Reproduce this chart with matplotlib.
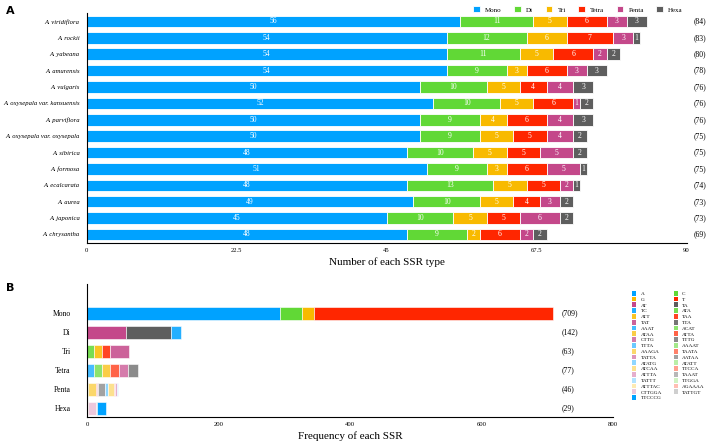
import numpy as np
import matplotlib
matplotlib.use("Agg")
from matplotlib import pyplot as plt
from matplotlib.patches import Patch

# ---- panel A data ----
species = ["A. viridiflora", "A. rockii", "A. yabeana", "A. amurensis", "A. vulgaris",
           "A. oxysepala var. kansuensis", "A. parviflora", "A. oxysepala var. oxysepala",
           "A. sibirica", "A. formosa", "A. ecalcarata", "A. aurea", "A. japonica",
           "A. chrysantha"]
ssr_types = ["Mono", "Di", "Tri", "Tetra", "Penta", "Hexa"]
mono = [56, 54, 54, 54, 50, 52, 50, 50, 48, 51, 48, 49, 45, 48]
di = [11, 12, 11, 9, 10, 10, 9, 9, 10, 9, 13, 10, 10, 9]
tri = [5, 6, 5, 3, 5, 5, 4, 5, 5, 3, 5, 5, 5, 2]
tetra = [6, 7, 6, 6, 4, 6, 6, 5, 5, 6, 5, 4, 5, 6]
penta = [3, 3, 2, 3, 4, 1, 4, 4, 5, 5, 2, 3, 6, 2]
hexa = [3, 1, 2, 3, 3, 2, 3, 2, 2, 1, 1, 2, 2, 2]
totals = [84, 83, 80, 78, 76, 76, 76, 75, 75, 75, 74, 73, 73, 69]

# ---- panel B data (motifs in legend order, row by row) ----
motifs = ["A", "C", "G", "T", "AT", "TA", "TC", "ATA", "ATT", "TAA", "TAT", "TTA",
          "AAAT", "ACAT", "ATAA", "ATTA", "CTTG", "TTTG", "TTTA", "AAAAT", "AAAGA",
          "TAATA", "TATTA", "AATAA", "ATATG", "ATATT", "ATCAA", "TTCCA", "ATTTA",
          "TAAAT", "TATTT", "TTGGA", "ATTTAC", "AGAAAA", "CTTGGA", "TATTGT", "TTCCCG"]
motif_counts = [294, 33, 18, 364, 59, 68, 15, 10, 12, 12, 29, 0,
                10, 13, 11, 14, 14, 15, 0, 1, 13,
                1, 2, 10, 4, 1, 9, 1, 3,
                0, 1, 0, 1, 0, 13, 1, 14]
class_totals = [709, 142, 63, 77, 46, 29]

base_colors = ["#00a2ff", "#61d836", "#f8ba00", "#ff2600", "#c4488a", "#5e5e5e"]

def lighten(c, f):
    rgb = np.array(matplotlib.colors.to_rgb(c))
    return tuple(rgb + (1 - rgb) * f)

motif_colors = [lighten(base_colors[i % 6], ((i // 6) % 6) * 0.14) for i in range(len(motifs))]

serif = "Liberation Serif"
plt.rcParams["font.family"] = serif

fig = plt.figure(figsize=(7.09, 4.42), dpi=100)

# ---------- A ----------
ax1 = fig.add_axes([0.1223, 0.451, 0.846, 0.519])
y = np.arange(len(species))
left = np.zeros(len(species))
for name, vals, col in zip(ssr_types, [mono, di, tri, tetra, penta, hexa], base_colors):
    vals = np.array(vals)
    ax1.barh(y, vals, left=left, height=0.7, color=col, edgecolor="white", linewidth=0.6, label=name)
    for yi, l, v in zip(y, left, vals):
        ax1.text(l + v / 2, yi, str(v), ha="center", va="center", color="white", fontsize=5.5)
    left = left + vals
for yi, t in zip(y, totals):
    ax1.text(91, yi, "(%d)" % t, ha="left", va="center", fontsize=5.5, clip_on=False)
ax1.set_ylim(len(species) - 0.5, -0.5)
ax1.set_xlim(0, 90)
ax1.set_xticks([0, 22.5, 45, 67.5, 90])
ax1.set_xticklabels(["0", "22.5", "45", "67.5", "90"])
ax1.set_yticks(y)
ax1.set_yticklabels(species, fontstyle="italic")
ax1.tick_params(axis="both", length=0, labelsize=4.8)
ax1.tick_params(axis="x", pad=4)
ax1.tick_params(axis="y", pad=5)
for s in ["top", "right"]:
    ax1.spines[s].set_visible(False)
ax1.spines["left"].set_linewidth(0.8)
ax1.spines["bottom"].set_linewidth(0.8)
ax1.set_xlabel("Number of each SSR type", fontsize=8, labelpad=3)
ax1.legend(loc="lower right", bbox_to_anchor=(0.995, 1.0), ncol=6, frameon=False, fontsize=5,
           handlelength=0.9, handleheight=0.9, columnspacing=1.8, handletextpad=0.8,
           borderaxespad=0.0, borderpad=0.1)

# ---------- B ----------
ax2 = fig.add_axes([0.1231, 0.0572, 0.7415, 0.300])
motif_len = [len(m) for m in motifs]
left2 = np.zeros(len(ssr_types))
for i, (m, c) in enumerate(zip(motifs, motif_counts)):
    k = motif_len[i] - 1
    if c > 0:
        ax2.barh(k, c, left=left2[k], height=0.7, color=motif_colors[i],
                 edgecolor="white", linewidth=0.4)
    left2[k] += c
for k, t in enumerate(class_totals):
    ax2.text(722, k, "(%d)" % t, ha="left", va="center", fontsize=5.5, clip_on=False)
ax2.set_ylim(5.44, -1.54)
ax2.set_xlim(0, 800)
ax2.set_xticks([0, 200, 400, 600, 800])
ax2.set_yticks(range(len(ssr_types)))
ax2.set_yticklabels(ssr_types)
ax2.tick_params(axis="x", length=0, labelsize=4.8, pad=4)
ax2.tick_params(axis="y", length=0, labelsize=5.5, pad=12)
for s in ["top", "right"]:
    ax2.spines[s].set_visible(False)
ax2.spines["left"].set_linewidth(0.8)
ax2.spines["bottom"].set_linewidth(0.8)
ax2.set_xlabel("Frequency of each SSR", fontsize=8, labelpad=3)

order = list(range(0, len(motifs), 2)) + list(range(1, len(motifs), 2))
handles = [Patch(facecolor=motif_colors[i], label=motifs[i]) for i in order]
fig.legend(handles=handles, loc="upper left", bbox_to_anchor=(0.888, 0.348), ncol=2,
           frameon=False, fontsize=3.8, handlelength=0.8, handleheight=1.0,
           labelspacing=0.12, columnspacing=2.2, handletextpad=0.8, borderpad=0)

fig.text(0.008, 0.975, "A", fontsize=8, fontweight="bold", family="DejaVu Sans", va="center")
fig.text(0.008, 0.349, "B", fontsize=8, fontweight="bold", family="DejaVu Sans", va="center")

fig.savefig("out.png", dpi=100)
